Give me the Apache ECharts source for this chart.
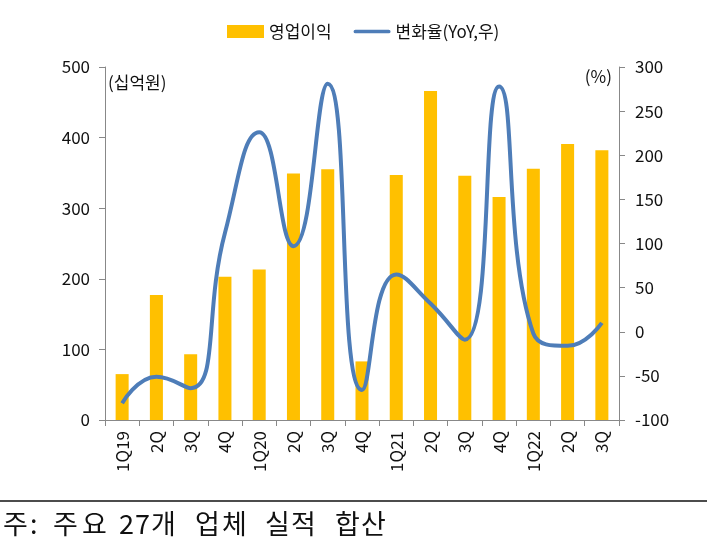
<!DOCTYPE html>
<html>
<head>
<meta charset="utf-8">
<script src="https://cdn.jsdelivr.net/npm/echarts@6/dist/echarts.min.js"></script>
<style>
html,body{margin:0;padding:0;background:#fff;}
#c{width:707px;height:551px;}
</style>
</head>
<body>
<div id="c"></div>
<script>
const categories = ['1Q19','2Q','3Q','4Q','1Q20','2Q','3Q','4Q','1Q21','2Q','3Q','4Q','1Q22','2Q','3Q'];
const operatingProfit = [65, 177, 93, 203, 213, 349, 355, 83, 347, 466, 346, 316, 356, 391, 382];
const yoyChange = [-81, -51, -64, 112, 226, 97, 281, -66, 65, 32, -9, 278, -2, -16, 10];
const leftTicks = {min: 0, max: 500, interval: 100};
const rightTicks = {min: -100, max: 300, interval: 50};
const noteChars = ['주', ':', '주', '요', '2', '7', '개', '업', '체', '실', '적', '합', '산'];
const noteLefts = [3, 30, 53, 82, 119, 135, 151, 195, 222, 265, 291, 335, 361];

const FONT = '"Noto Sans CJK KR", "Noto Sans", sans-serif';
const chart = echarts.init(document.getElementById('c'), null, {renderer: 'canvas'});
const noteGraphics = noteChars.map((ch, i) => ({
  type: 'text', left: noteLefts[i], top: 510,
  style: {text: ch, font: '27px ' + FONT, fill: '#111'}
}));
chart.setOption({
  animation: false,
  backgroundColor: '#fff',
  textStyle: {fontFamily: FONT},
  legend: {
    left: 222, top: 18,
    itemWidth: 37, itemHeight: 13, itemGap: 22,
    textStyle: {fontSize: 17, color: '#111', fontFamily: FONT},
    data: [
      {name: '영업이익', icon: 'rect'},
      {name: '변화율(YoY,우)', icon: 'path://M2,0 L38,0 A2,2 0 0 1 38,4 L2,4 A2,2 0 0 1 2,0 Z'}
    ]
  },
  grid: {left: 105, right: 88, top: 67, bottom: 131, containLabel: false},
  xAxis: {
    type: 'category', data: categories,
    axisLine: {lineStyle: {color: '#888', width: 1}},
    axisTick: {show: true, length: 6, lineStyle: {color: '#888'}},
    axisLabel: {rotate: 90, margin: 11, fontSize: 17, color: '#111', fontFamily: FONT, interval: 0}
  },
  yAxis: [
    {type: 'value', min: leftTicks.min, max: leftTicks.max, interval: leftTicks.interval,
     axisLine: {show: true, lineStyle: {color: '#888'}},
     axisTick: {show: true, length: 6, lineStyle: {color: '#888'}},
     splitLine: {show: false},
     axisLabel: {fontSize: 17, color: '#111', margin: 15, fontFamily: FONT}},
    {type: 'value', min: rightTicks.min, max: rightTicks.max, interval: rightTicks.interval,
     axisLine: {show: true, lineStyle: {color: '#888'}},
     axisTick: {show: true, length: 6, lineStyle: {color: '#888'}},
     splitLine: {show: false},
     axisLabel: {fontSize: 17, color: '#111', margin: 16, fontFamily: FONT}}
  ],
  series: [
    {name: '영업이익', type: 'bar', data: operatingProfit, yAxisIndex: 0,
     barWidth: '38%', itemStyle: {color: '#FFC000'}},
    {name: '변화율(YoY,우)', type: 'line', data: yoyChange, yAxisIndex: 1,
     smooth: 0.5, symbol: 'none', z: 5,
     lineStyle: {color: '#4E7DB8', width: 4},
     itemStyle: {color: '#4E7DB8'}}
  ],
  graphic: [
    {type: 'text', left: 108, top: 74, style: {text: '(십억원)', font: '17px ' + FONT, fill: '#111'}},
    {type: 'text', right: 95, top: 68, style: {text: '(%)', font: '17px ' + FONT, fill: '#111'}},
    {type: 'line', shape: {x1: 0, y1: 501, x2: 707, y2: 501}, style: {stroke: '#111', lineWidth: 1.5}}
  ].concat(noteGraphics)
});
</script>
</body>
</html>
